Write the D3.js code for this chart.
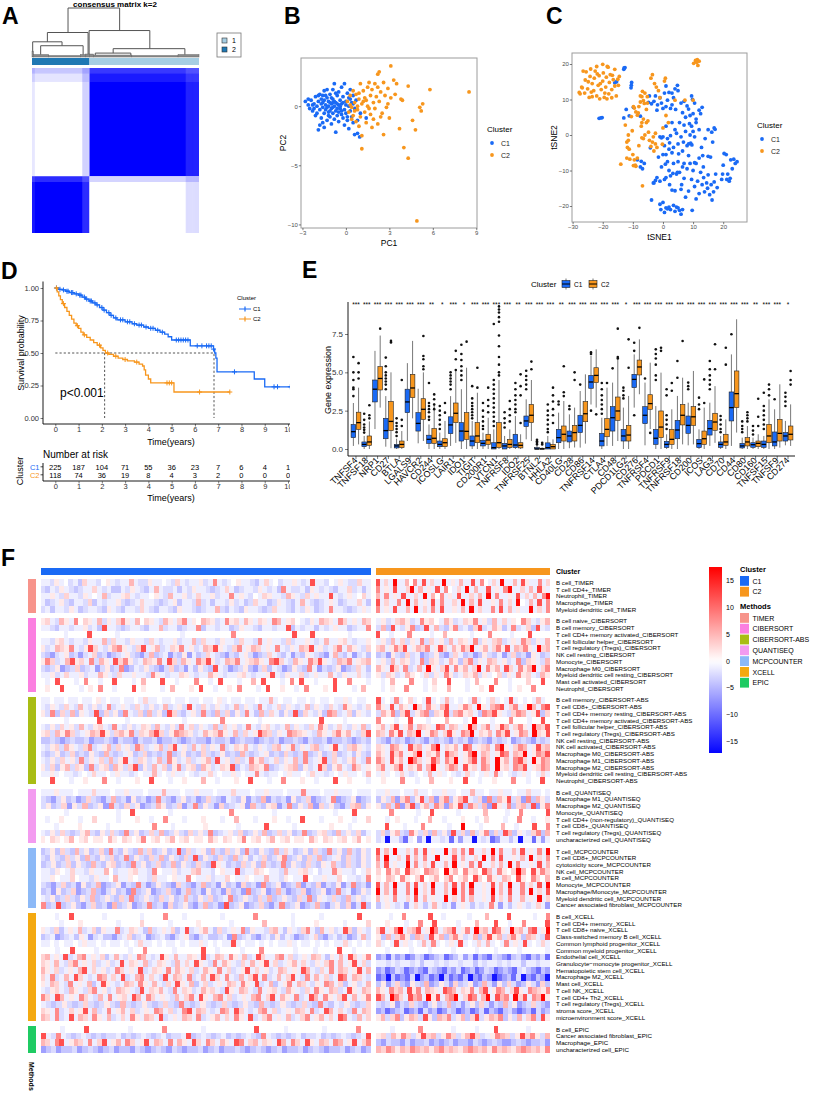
<!DOCTYPE html>
<html>
<head>
<meta charset="utf-8">
<script src="https://cdn.jsdelivr.net/npm/d3@7"></script>
<style>
  body { margin: 0; background: #fff; }
  svg { display: block; font-family: "Liberation Sans", Arial, sans-serif; }
</style>
</head>
<body>
<svg id="fig" width="816" height="1094"></svg>
<script>
// ---------- colours ----------
const colC1 = "#1a6af5";
const colC2 = "#f7961d";

// ---------- A: consensus matrix ----------
const consSizes = [225, 118];               // consensus cluster 1, 2
// dendrogram merges: [left x, right x, left child h, right child h, merge h] (x in sample index)
const dendroMerges = [
  [74, 180, 0.50, 0.54, 1.0],
  [31.6, 115.2, 0.31, 0.06, 0.50],
  [117.3, 242, 0.06, 0.17, 0.54],
  [1.4, 61.7, 0.12, 0.23, 0.31],
  [17.8, 105, 0.05, 0.05, 0.23],
  [166.7, 314, 0.08, 0.05, 0.17],
  [130, 203, 0.04, 0.04, 0.08]
];
const dendroLeaves = [[0, 3, 0.12], [3, 34, 0.05], [34, 100, 0.03], [100, 110, 0.05], [110, 118, 0.06],
  [118, 126, 0.06], [126, 205, 0.04], [205, 300, 0.03], [300, 343, 0.05]];
const consRowFringe = [[0, 12, 0.28], [12, 30, 0.13], [225, 236, 0.22]];
const consColFringe = [[0, 5, 0.12], [104, 118, 0.22], [316, 343, 0.17]];

// ---------- B: PCA ----------
const pcaC1 = [[-2.8,0.4],[-2.6,0.1],[-2.5,-0.2],[-2.4,0.5],[-2.3,-0.4],[-2.2,0.2],[-2.1,0.8],[-2.1,-0.8],[-2.0,0.0],[-1.9,-2.0],
  [-1.9,0.4],[-1.8,-0.3],[-1.8,1.0],[-1.7,-1.0],[-1.7,0.6],[-1.6,-0.1],[-1.6,0.3],[-1.5,-1.8],[-1.5,-0.6],[-1.5,1.3],
  [-1.4,0.1],[-1.4,-0.3],[-1.3,0.7],[-1.3,-1.2],[-1.3,1.4],[-1.2,0.0],[-1.2,-0.5],[-1.2,0.4],[-1.1,-0.9],[-1.1,1.0],
  [-1.0,0.2],[-1.0,-0.2],[-1.0,-1.5],[-0.9,0.6],[-0.9,-0.6],[-0.9,1.4],[-0.8,0.0],[-0.8,1.9],[-0.8,-1.1],[-0.7,-2.2],
  [-0.7,0.3],[-0.7,-0.4],[-0.6,0.9],[-0.6,-0.8],[-0.5,0.1],[-0.5,1.2],[-0.5,-1.3],[-0.4,-0.2],[-0.4,0.5],[-0.3,-0.7],
  [-0.3,1.6],[-0.3,0.2],[-0.2,-1.0],[-0.2,0.8],[-0.1,1.9],[-0.1,-0.3],[-0.1,-1.6],[0.0,0.4],[0.0,-0.6],[0.1,1.1],
  [0.1,-1.2],[0.2,0.0],[0.2,0.7],[0.2,-1.9],[0.3,-0.4],[0.3,1.4],[0.4,0.3],[0.4,-0.9],[0.5,-1.4],[0.5,0.9],
  [0.6,-0.2],[0.6,-2.4],[0.7,0.5],[0.8,-1.2],[0.8,-2.3],[0.95,-2.6],[1.0,-0.6],[1.4,-1.0],[-2.0,-0.6],[-1.9,0.9],
  [-1.6,-1.4],[-1.4,0.9],[-1.1,0.3],[-1.0,0.7],[-0.8,0.4],[-0.6,0.2],[-0.6,-0.2],[-0.4,0.0],[-1.3,-0.1],[-1.7,0.2],
  [-2.3,0.1],[-0.2,0.3],[0.0,0.1],[-1.5,0.5],[-0.9,-0.1],[-1.1,-0.4],[-0.5,-0.5],[-2.6,0.6],[-1.8,-1.6],[0.3,0.6],
  [-0.7,1.1],[0.1,-0.9],[-2.2,-0.2],[-1.2,-0.8],[-0.3,-0.4],[-1.6,0.9],[0.5,0.2],[-0.9,0.3]];
const pcaC2 = [[0.1,0.4],[0.2,-0.5],[0.3,0.9],[0.4,-0.1],[0.5,1.3],[0.5,-0.8],[0.6,0.3],[0.7,-1.3],[0.7,1.0],[0.8,-0.3],
  [0.9,0.6],[0.9,-1.7],[1.0,1.9],[1.0,-0.9],[1.1,0.2],[1.1,-2.5],[1.1,-3.6],[1.2,1.3],[1.3,-0.5],[1.3,0.7],
  [1.4,-1.4],[1.5,1.6],[1.5,0.0],[1.6,2.0],[1.7,-0.7],[1.7,0.9],[1.8,1.4],[1.9,-1.1],[1.9,0.3],[2.0,1.9],
  [2.0,-0.2],[2.1,0.8],[2.2,2.7],[2.2,-1.5],[2.3,2.9],[2.3,0.4],[2.4,1.2],[2.5,-0.6],[2.6,2.0],[2.6,-2.4],
  [2.7,0.9],[2.8,-0.1],[2.9,1.5],[3.0,-1.0],[3.1,3.4],[3.1,0.7],[3.3,2.2],[3.4,1.0],[3.5,1.9],[3.7,-1.9],
  [3.8,0.6],[3.9,0.5],[4.0,-3.5],[4.3,1.7],[4.3,-4.4],[4.6,-1.2],[4.8,-2.0],[4.9,-9.7],[5.1,-0.1],[5.2,-0.4],
  [5.3,0.2],[5.8,1.4],[8.5,1.2],[0.6,-0.4],[1.2,0.4],[0.9,1.1],[1.6,-0.2],[2.4,-0.9],[0.3,0.1],[1.4,0.5],
  [2.9,0.2],[0.8,0.0],[1.8,-1.8],[2.2,1.6],[0.4,-1.1]];

// ---------- C: tSNE ----------
const tsneC1 = [[-13,18.5],[-12.6,19],[-12.9,18.9],[-16,14.7],[-15.4,15],[-10.5,14],[-10.6,13.3],[-10.4,14.8],[-21.2,4.7],[-20.6,4.8],
  [-20.2,4.9],[-12.2,7.2],[-13,4.8],[-11.2,5.4],[-9.8,7.8],[-7.5,5.3],[-8.5,-7],[-7.2,-7.4],[-6.2,-8],[-6.8,-9.5],
  [-7.5,-9],[-3.2,-13.5],[-4.2,-3.6],
  [-3,9.5],[-2.5,11],[-1.8,8.5],[-1,10.5],[-0.5,9],[0,7.5],[0.5,11.8],[1,13.8],[1.5,9.8],[2,12],
  [2.5,7.5],[3,11.8],[3.5,10.5],[4,13],[4.2,7.2],[4.8,14],[5,12.5],[6,9],[6.5,6.3],[7,9.5],
  [7.5,5],[8,8.2],[8.5,7.3],[9,5.5],[9.5,11],[9.8,10],[10,6],[10.5,9],[11,4.5],[12,7],
  [12.5,6],[13,7.8],[-2,7],[1,8],[3,8.5],[-4.5,11],[-3.8,8.8],[-4.8,9.2],
  [-1,-0.5],[0,-0.5],[0.5,-3],[1,-5.5],[1.5,-1],[2,-4],[2.5,-0.2],[3,-5],[3.5,-3.5],[4,1.5],
  [4.5,0.5],[5,-2.5],[5.5,3.5],[6,-0.5],[6.5,-4.5],[7,2.8],[7.5,1],[8,-3],[8.5,-2.5],[9,0],
  [9.2,-2.3],[9.5,2.5],[10,1],[10.5,-0.5],[11,3.5],[12,1.5],[12.8,-3.5],[13.2,-5.8],[14,-1],[15,-6],
  [15,1.5],[15.8,-6.2],[16.5,-2],[16.2,0.8],[17,2],[17.3,1.6],[3,3.5],[1,2.5],[-0.5,-0.8],[2.2,-2.2],[6.8,-2],
  [-3,-13.5],[-2.5,-12.8],[-2,-12],[-1,-13],[-0.5,-9],[0,-5.5],[0.5,-12.5],[1,-12],[1.5,-7.5],[2,-10],
  [2.5,-11.5],[3,-15.5],[3.5,-8],[4,-15.7],[4.5,-11],[5,-7.5],[5.5,-10.5],[6,-15.3],[6.5,-9],[7,-8],
  [7.5,-17.5],[8,-9.5],[8.5,-15.8],[9,-8],[9.5,-12.5],[10,-10],[10.5,-14.5],[11,-8],[11.5,-13],[12,-16.5],
  [12.5,-10.5],[13,-14],[13.5,-12],[13.8,-16],[14.5,-13.5],[15,-11.2],[15.5,-16.8],[16,-14],[16.3,-18.3],[17,-13.2],
  [17.5,-11],[18,-14.8],[19.5,-12.5],[20,-8.5],[20.3,-5.2],[21,-5.5],[21.5,-11],[22,-13],[22.3,-12.2],[22.5,-7],
  [23,-9.5],[23.5,-6.8],[24,-8],[24.6,-7.5],[19.8,-11],[21.2,-12.5],[-3.8,-18.3],[-1,-19.5],[0,-19],[0.5,-21.8],
  [1,-20.5],[1.5,-20.8],[2.5,-21],[3.5,-19.8],[4,-21.5],[4.5,-20.3],[5,-20.5],[5.5,-21.2],[6,-22.3],[6.5,-21],
  [9.7,-21.2],[-0.7,-21],[2,-20.3],[4.8,-10.5],[3.3,-10.8],[8.5,-5.8],[12,-6.5],[6.2,-14],[11,-18],[14.8,-15],
  [16.8,-16],[10.5,-7.8],[7,-12.2],[2.2,-14],[9.6,-2.8],[8.8,3.2],[5.2,-5.3],[0.8,-8.2],[-1.5,-6.2],[13.4,-9]];
const tsneC2 = [[-27.8,12],[-27.5,11.6],[-27,13.5],[-26.5,18],[-26,11.8],[-25.8,15.5],[-25.5,17.8],[-25,13],[-24.5,10.6],[-24.2,16.5],
  [-24,18.6],[-23.5,14.5],[-23.5,10.8],[-23,12.5],[-22.8,16],[-22.5,18],[-22,19.3],[-22,11],[-21.5,14],[-21.2,16.7],
  [-21,10.2],[-20.5,12.8],[-20,19.9],[-20,15.2],[-19.8,17.5],[-19.5,10.6],[-19,13.5],[-18.8,16.3],[-18.5,19.3],[-18,11.6],
  [-17.8,14.8],[-17.5,17],[-17,10.5],[-17,12.8],[-16.5,15.6],[-16,18.5],[-16,13.8],[-15.5,11],[-15,15.7],[-14.8,14],
  [-14.5,16.5],[-18.2,19.1],[-26.8,13.3],[-21.8,17.2],[-23.8,12.1],[-19.3,11.8],[-16.8,16.8],[-20.8,14.5],[-24.8,15],[-18.6,10.2],
  [-12.5,2.8],[-11.5,-1.5],[-11.8,-3.5],[-11.2,-4],[-12,-6.5],[-11,-6.8],[-10,-5.5],[-9.5,-7],[-9.2,-8.5],[-9,-8.8],
  [-8.5,-6.5],[-14,-8.2],[-6.8,-14.3],[-10.5,5.2],[-9.8,8],[-9.5,7.6],[-9,6.5],[-8.5,5.6],[-8,8],[-7.5,9.3],
  [-7,10.8],[-6.8,12.3],[-6.5,9.7],[-6.2,8.9],[-6,11.8],[-5.5,7.2],[-5.2,9],[-5.2,10.8],[-5,4],[-4.8,0.8],
  [-5.5,3.5],[-6.5,4.5],[-7,3.5],[-7.2,2.5],[-6,0],[-6.5,-1],[-7,-0.8],[-4.5,-1.5],[-4,-3.2],[-3.5,-2],
  [-3.2,-0.5],[-3,-4.5],[-2.5,0.5],[-2.5,-2.5],[-4,16],[-3.5,17],[-2.8,14.5],[-2.2,13.5],[-1.5,12.5],[0.5,15.2],
  [0.8,16],[-1,10.5],[-7.5,11],[-8.2,6.2],[-10.2,1.2],[-11.5,0],[-12,-2],[-8,-3],[-2,-3.5],[0,2],
  [1.8,3.5],[1,5.5],[4,9.8],[7.3,9.8],[10,9.8],[-0.2,-2.6],[-9.8,-8.6],
  [10.2,20.2],[10.8,21],[11.2,20.5],[11.6,19.6],[12,20.8],[11.4,21.2]];

// ---------- D: Kaplan-Meier ----------
const kmC1 = [[0,1],[0.15,0.99],[0.3,0.985],[0.45,0.975],[0.6,0.965],[0.8,0.955],[1.0,0.945],[1.15,0.93],[1.3,0.915],
  [1.45,0.9],[1.6,0.885],[1.75,0.87],[1.9,0.85],[2.05,0.83],[2.2,0.81],[2.35,0.79],[2.5,0.77],[2.65,0.755],[3.0,0.74],
  [3.3,0.725],[3.5,0.715],[3.8,0.70],[4.0,0.69],[4.3,0.675],[4.5,0.66],[4.7,0.645],[4.85,0.625],[5.0,0.60],[5.8,0.555],
  [6.8,0.53],[6.85,0.50],[6.9,0.46],[6.95,0.355],[8.55,0.30],[9.0,0.24],[10.2,0.24]];
const kmC2 = [[0,1],[0.08,0.97],[0.15,0.94],[0.22,0.91],[0.3,0.88],[0.4,0.85],[0.5,0.82],[0.6,0.79],[0.7,0.76],[0.8,0.73],
  [0.9,0.71],[1.0,0.69],[1.1,0.66],[1.2,0.64],[1.35,0.62],[1.5,0.60],[1.65,0.58],[1.8,0.56],[1.95,0.54],[2.05,0.52],
  [2.15,0.50],[2.3,0.49],[2.5,0.475],[2.7,0.46],[2.9,0.45],[3.1,0.44],[3.4,0.43],[3.6,0.415],[3.75,0.40],[3.82,0.37],
  [3.88,0.33],[4.0,0.30],[4.1,0.27],[5.1,0.20],[7.5,0.20]];
const censC1 = [0.05,0.2,0.35,0.5,0.55,0.7,0.75,0.9,1.05,1.1,1.25,1.35,1.5,1.55,1.7,1.8,2.0,2.1,2.3,2.4,2.6,2.8,2.9,3.1,
  3.2,3.4,3.6,3.7,3.9,4.1,4.2,4.4,4.6,5.2,5.3,5.4,5.5,5.6,5.7,6.1,6.3,6.5,6.6,6.7,6.8,7.7,9.4,9.55,10.1];
const censC2 = [0.05,0.35,0.95,1.25,1.9,2.25,2.6,3.0,3.5,4.8,4.9,5.0,6.2,7.5];
const kmMedian = [6.82, 2.12];
const riskTimes = [0, 1, 2, 3, 4, 5, 6, 7, 8, 9, 10];
const riskC1 = [225, 187, 104, 71, 55, 36, 23, 7, 6, 4, 1];
const riskC2 = [118, 74, 36, 19, 8, 4, 3, 2, 0, 0, 0];

// ---------- E: immune checkpoint boxplots ----------
const eGenes = ["TNFSF4","TNFSF18","NRP1","CD27","BTLA","LGALS9","HAVCR2","CD244","ICOSLG","LAIR1","IDO1","TIGIT",
  "CD200R1","VTCN1","TNFRSF8","IDO2","TNFRSF25","BTNL2","HHLA2","CD40LG","CD28","CD86","TNFRSF14","CTLA4","CD48",
  "PDCD1LG2","CD276","TNFRSF4","PDCD1","TNFRSF9","TNFRSF18","CD200","ICOS","LAG3","CD70","CD44","CD80","CD160",
  "TNFSF15","TNFSF9","CD274"];
const eStars = ["***","***","***","***","***","***","***","**","*","***","*","***","***","***","***","**","***","***",
  "***","**","***","***","***","***","***","*","***","***","***","***","***","***","***","***","***","***","***","**",
  "***","***","*"];
// [lower whisker, q1, median, q3, upper whisker]
const eBoxC1 = [[0.2,0.74,1.13,1.6,3.0],[0,0.15,0.3,0.46,0.85],[1.3,3.07,3.9,4.5,6.4],[0.15,0.67,1.2,2.0,3.45],
  [0,0.07,0.2,0.3,0.67],[0.52,2.37,3.07,3.9,5.6],[0.37,1.17,1.67,2.37,3.93],[0,0.37,0.63,0.9,1.6],[0,0.15,0.3,0.52,1.07],
  [0.2,1.0,1.57,2.1,3.45],[0,0.52,1.17,1.72,3.9],[0,0.2,0.52,0.85,1.83],[0,0.2,0.37,0.57,1.07],[0,0,0.09,0.41,1.28],
  [0,0,0.2,0.37,0.85],[0,0.09,0.26,0.96,2.15],[0.63,1.46,1.83,2.15,3.24],[0,0,0,0.09,0.2],[0,0,0.09,0.4,0.85],
  [0,0.41,0.74,1.28,2.37],[0.05,0.46,0.85,1.17,2.26],[0.09,1.07,1.54,2.2,3.78],[2.9,3.96,4.37,4.8,6.07],
  [0,0.2,0.52,1.02,2.04],[0.2,1.17,2.04,2.76,4.33],[0,0.52,0.85,1.28,2.7],[2.7,4.0,4.54,4.87,6.17],
  [0.24,1.65,2.2,2.76,4.33],[0,0.3,0.7,1.28,2.8],[0,0.09,0.3,0.5,0.96],[0,0.67,1.24,1.87,3.46],[0.24,1.02,1.54,2.15,3.02],
  [0,0.09,0.35,0.63,1.28],[0.2,0.91,1.33,1.87,3.02],[0,0.11,0.3,0.46,0.85],[0.2,1.83,2.7,3.72,6.17],[0,0.07,0.2,0.37,0.74],
  [0,0.11,0.28,0.41,0.74],[0,0.11,0.3,0.52,0.85],[0,0.2,0.46,1.11,2.59],[0.24,0.52,0.85,1.07,1.83]];
const eBoxC2 = [[0.3,1.28,1.72,2.4,4.0],[0,0.24,0.46,0.85,1.8],[2.7,3.85,4.6,5.37,7.4],[0.05,1.2,1.8,3.1,5.0],
  [0,0.09,0.3,0.52,1.17],[2.0,3.35,3.98,4.87,7.05],[0.52,1.93,2.59,3.28,5.0],[0,0.37,0.7,1.33,3.0],[0,0.15,0.41,0.67,1.83],
  [0.4,1.72,2.33,3.0,5.1],[0,0.63,1.15,2.37,5.3],[0,0.41,0.85,1.72,3.67],[0,0.3,0.59,0.96,2.04],[0,0.09,0.41,1.72,4.5],
  [0,0.09,0.3,0.63,1.28],[0,0.07,0.24,0.41,0.96],[0.52,1.72,2.2,2.9,4.5],[0,0,0,0.05,0.1],[0,0,0.15,0.3,0.63],
  [0,0.52,0.96,1.5,3.13],[0.1,0.52,1.07,1.54,2.7],[0.35,1.78,2.3,3.09,4.87],[2.7,4.33,4.8,5.3,6.5],
  [0.2,0.8,1.28,1.98,4.0],[0.52,1.87,2.48,3.39,5.85],[0,0.52,0.91,1.54,3.46],[3.57,4.83,5.35,5.8,7.15],
  [1.3,2.59,2.96,3.54,5.63],[0,0.74,1.43,2.48,4.98],[0,0.3,0.63,1.28,2.59],[0.3,1.57,2.2,2.9,4.65],[0.3,1.54,2.1,2.76,5.09],
  [0,0.3,0.67,1.17,2.7],[0.4,1.22,1.76,2.33,4.1],[0,0.24,0.46,0.96,1.93],[1.07,2.7,3.61,5.09,8.46],[0,0.2,0.46,0.74,1.5],
  [0,0.15,0.37,0.52,0.96],[0,0.41,0.85,1.61,3.24],[0.09,0.52,1.02,1.93,4.22],[0.2,0.59,0.96,1.5,2.91]];
const eOutC1 = [[6.0,5.0,4.5,4.0,3.9,3.45],[2.3,1.9,1.6,1.4,1.25,1.07],[],[5.96,5.4,5.0,4.8,4.6,4.4,4.2,3.9],
  [2.0,1.7,1.5,1.3,1.1,0.85],[],[],[4.3,3.0,2.8,2.6,2.4,2.1,1.9],[2.8,2.5,2.2,1.9,1.6,1.3],[5.0,4.8,4.6,4.4,4.2,3.9],
  [6.8,6.2,5.8,5.4,5.1,4.8,4.5],[4.1,3.3,3.0,2.8,2.6,2.4,2.2,2.0],[3.0,2.5,2.1,1.8,1.5,1.3],
  [8.15,4.5,4.2,3.9,3.6,3.3,3.0,2.7,2.4,2.1,1.8,1.5],[2.4,2.0,1.7,1.4],[4.3,3.9,3.5,3.2,2.9,2.6,2.4],
  [5.1,4.76,4.5,4.2,3.9],[0.6,0.5,0.4,0.3],[2.9,2.5,2.2,1.9,1.6,1.3,1.1],[3.1,2.9],[2.8,2.6],[4.2],[6.3,6.2,2.5],
  [4.3,3.9,3.5,3.2,2.9,2.6,2.3],[5.26],[4.0,3.8,3.5,3.3],[6.93,6.4,2.2],[4.6],[6.5,6.2,5.9,5.5,4.8,4.5],
  [3.9,3.5,2.2,1.9,1.6,1.3],[5.74,4.65],[4.33,4.1,3.9],[3.35,2.9,2.6],[5.74,5.2,4.8,4.5,4.2,3.9],[2.15,1.9,1.6,1.3,1.1],
  [7.48],[1.8,1.5,1.3,1.1],[1.5,1.2,0.95],[3.67,2.8,2.5,2.2,1.9,1.6,1.3],[3.24],[3.67,3.4,3.1,2.8]];
const eOutC2 = [[5.6,5.0,4.6],[2.85,2.2,2.0],[7.85],[7.05,6.95],[4.5,1.9,1.5],[],[7.37,6.07,5.85,5.4,5.2],
  [3.56,3.24,2.9,2.6],[3.0,2.37],[6.4,5.85,5.15],[7.0],[5.3,4.0],[4.0,3.2,2.8,2.4],
  [9.3,9.1,8.9,8.6,8.3,7.4,6.7,6.0,5.5,5.0,4.8],[3.13,2.6,2.2,1.8],[4.87,4.1,3.5,1.7],[5.7,5.2],[0.4,0.3],
  [4.0,3.5,3.1,2.6,2.2,1.7],[5.4,3.7,3.45],[5.0,4.5],[],[2.26],[4.3],[7.85,6.0,5.9],[7.15,5.3],[7.9],[1.05],
  [6.6,6.4],[4.3,3.8],[7.04],[],[4.54,3.0],[6.83,5.2],[6.6,5.5],[],[2.4,2.2,2.0,1.8],[3.28,2.1,1.5],[4.2,3.9,3.5],[],
  [5.09,4.5,4.2]];

// ---------- F: immune infiltration heatmap ----------
// each row: [label, C1 cells, C2 cells]; one character per block of samples
const heatCode = { ".": -1.2, "-": 0, "u": -2.5, "v": -4, "w": -6.5, "x": -10, "y": -16,
  "a": 1.5, "b": 3, "c": 5, "d": 8, "e": 12, "f": 17 };
const heatMethods = ["TIMER", "CIBERSORT", "CIBERSORT-ABS", "QUANTISEQ", "MCPCOUNTER", "XCELL", "EPIC"];
const methodColors = ["#f7948b", "#fb7fe0", "#a9bd14", "#f39bf0", "#8cb9f7", "#f4a910", "#1fcb63"];
const heatTIMER = [
  ["B cell_TIMER", "..ua.-u.vb..u-a.u..c.uua..-.ub.u..au.d.u.-a..uv.b.-u..a.u.e..u-.a.uub..", "e.b.f..c-d.e.b..f.a.c..e.d-.b.f..c.ea..d.b"],
  ["T cell CD4+_TIMER", "uv.ua.uvu..b.u.vv.ua.uv.c.uu.v.ua..uvu.b.vu..ua.u.vd.uu.va.u.uv..bu.v.", "d.a.e..bf.c.a.e.d-.b.f.c..e.a.df..b.c.ea."],
  ["Neutrophil_TIMER", "..a.ub..ua.-.cu..ab.u..-a.uc..au.b..au..d.a.u-.ba..uca.ub.a..e.u.a.-b.", "c.d.a.e..b.f.c-d.a.e..b.c.f.d..a.e.b.c.df"],
  ["Macrophage_TIMER", ".vu.auv..ubv.u..auvu.b..uvu.av..ucu.v..uau.vub..vua.uv.c.uvu.a.vu..b.v", "e.b..d.f.c.a.e.d..b.f.c.e..a.d.b.f-.c.e.d"],
  ["Myeloid dendritic cell_TIMER", "u.v..ua.vu..uva.uv..ub.uv..uva..uvu..cuv.uva..uvub..uv.ua.vu.d..uvu.a.", "d.a.e..c.f.b.d.e..a.c.f.b..d.e.c.a..f.b.d"]
];
const heatCIBERSORT = [
  ["B cell naive_CIBERSORT", "ab.uca.d-ba.cua.bda.c-ba.uca.bd.a-cbau.dab.ca.ba.dc.ab-.ua.cba.db.a.cb", ".au.bcau.dab-.cau.bad.auc.b.a-db.uac"],
  ["B cell memory_CIBERSORT", "..uv..u..au.ve..uvu..uv..cu..vu..dv..u..vua..uv..u..ev.u..v.u.a..vu..d", "ucve.uadvue.cuvadu.vbeu.cav.du.bve.u"],
  ["T cell CD4+ memory activated_CIBERSORT", "-----.----e-----.-------------.----------d------------e---e-------.----", "e--.---d----.--c-----.---d----.---e----"],
  ["T cell follicular helper_CIBERSORT", "..uab.u..ua..cub..ua..ub.u..au..cub..ua..ub..ud.a..ubu..a.u.c..ab.u..a", ".auc.bua.dub.auc.ba.dua.bcu.a.dbua.c"],
  ["T cell regulatory (Tregs)_CIBERSORT", "au.cbad.uaeb.uacda.ube.acu.bad.au.cbea.ubd.acb.a.d.ua.cbe.au.bd.ca.ub", "bc.adbe.acbd.aeb.cadbf.ac.bdae.cbda.fbc"],
  ["NK cell resting_CIBERSORT", "uvwu.avuwu.bvuwvu.auvwucvu.wuvaw.vub.uvwuv.auwvub.uv.wuva.uvw.cuv.wu.v", "vuwauvbu.wvuavwub.vuwvauv.wubvuwa.vu"],
  ["Monocyte_CIBERSORT", "adbu.ceab.duca.ebdau.cbad.ebuca.dbeau.cbd.abca.deb.uca.dbea.ucbd.abc", ".auc.bau.dvbau.cavbdua.cb.au.dvba.uc"],
  ["Macrophage M0_CIBERSORT", "uvuawvubvu.wuavudwv.uauvwubvuw.vauve.uwvuavwubv.uwvauvd.wuvuawvub.v", "ca.eb.du.c.fa.be.dac.bf.dac.eb.dacf.bd"],
  ["Myeloid dendritic cell resting_CIBERSORT", "..au.b..au..ca.ub..a..uda.u..ba.u..ca.u..ab.u..ae.ua..bu.a..c.ua..b.u", "aubau.ca-.bua.dau.bacua.-bua.dab.uca"],
  ["Mast cell activated_CIBERSORT", "-.-e---.-d--.--e---.-c---e--.---d--.-e---.--c-e---.-d-e--.---e--d---.", "-.-c---d--.-b--e---.-c---d--.---b--e-"],
  ["Neutrophil_CIBERSORT", "-a--e---.-a-d--.---e-a---.-c---a-e--.--a-d---.-e--a--.-d---a-e---.-c-", "-.-a--d---.-a--c---.--a-e---.-a--d---"]
];
const heatCIBERSORTABS = [
  ["B cell memory_CIBERSORT-ABS", "..-..-..-..-a.-..-..-.b..-..-..-..-..-a.-..-..-..c.-..-..-.-..-..a.-..-", "e.-.d.-b.-.e.-.c.-.-.d.-.b.-.e.-.-.c.-"],
  ["T cell CD8+_CIBERSORT-ABS", ".ua.ub.uc.uau.du.a.ub.uau.cu.aue.ub.ua.u.cua.ud.u.bua.u.cua.ub.uda.u.b", "da.e.ca.fb.da.ce..adb.fa.cde.bd.afc.de"],
  ["T cell CD4+ memory resting_CIBERSORT-ABS", "audvbucva.uevbuavd.ubvcuavebuv.auduvcubvaud.vcub.vauevb.uavdcu.bva.u", "ucadvbeuacdvbaeucdab.vdcea.ubdc.aevb"],
  ["T cell CD4+ memory activated_CIBERSORT-ABS", "-----.------e-----.-----------.-------d-------.------------e----.-----", "d---.--e---.---c---.-f---.---d---.--e-"],
  ["T cell follicular helper_CIBERSORT-ABS", ".uaub.auc.uab.ud.uau.bauc.uaud.bua.ucub.au.d.uab.u.cua.ub.dau.b.ua.cu", "ac.be.ad.cba.ed.cb.afc.bd.aec.bda.fcbe"],
  ["T cell regulatory (Tregs)_CIBERSORT-ABS", "abucadbu.acbeaubcadubacebuadcbau.cabda.cub.aecbua.dcba.uca.bdac.ube", "cb.dae.cbf.adc.bea.dcf.bac.dbe.adc.fbae"],
  ["NK cell resting_CIBERSORT-ABS", "vvuvwvuvvuwvvuvwuvvwuvvuwvvuvwvuvvwuvvuwvuvvwvuvuwvvuvwuvvuwvvuvwvuv", "uvwuvuwvuvwuvuvwuvuwvuvwuvu.wvuvwuvu"],
  ["NK cell activated_CIBERSORT-ABS", ".uabuca.ubdu.acub.audbu.acube.auc.bua.du.bac.ua.ubc.adua.bcu.ae.ubca.u", "ba.dca.ebc.adf.bac.ed.abc.dfa.bdc.aebc"],
  ["Macrophage M0_CIBERSORT-ABS", "uvuavubvuvauvcuvu.avubvuvudvuavuvbuvuavuvcuvu.avuvbuvudvuavubvu.vauv", "ca.ebd.acf.bad.ecb.adf.cb.aed.cbf.adce"],
  ["Macrophage M1_CIBERSORT-ABS", ".uaub.audua.bucuae.ubau.cudau.bu.acue.aubu.dacu.bua.cudu.aeub.uac.ud", "db.eac.fdb.aec.dbf.ace.db.fac.deb.fadc"],
  ["Macrophage M2_CIBERSORT-ABS", "aubvacubavduabvcaubevauc.bvaduabvcau.baev.ucbadvu.abcvau.ebvac.udb.a", "bd.ace.bad.cfa.bdc.eab.dc.fab.dce.abdc"],
  ["Myeloid dendritic cell resting_CIBERSORT-ABS", "..a.-..u.-.b..-.a..u.-..c.-.a..-.u..b.-..a.-..d.u..-.a..-.b..u.-.a..-.c", ".a.-.b.u.-.c.a.-.u.b.-.a.d.-.u.a.-.b."],
  ["Neutrophil_CIBERSORT-ABS", "--e---.--a---d--.---a--e---.--a---c--.---a--e---.--d---a--.---e--a---.", "-a---d--.--c---a--e--.--a---d--.--e-"]
];
const heatQUANTISEQ = [
  ["B cell_QUANTISEQ", "...a...-...b...-..a...-...c...-..a...-...b...-..a...-...d...-..a...-...", "..a..-..b..-..a..-..c..-..a..-..b..-."],
  ["Macrophage M1_QUANTISEQ", "uvwuavuwvbuvwucvuwavuwvduvwuavuwvbuvw.uvawuvcwuvuwavubwvu.dwvuawvu", "vaucwbdvaeucwbdvace.ubwdvcaeubwdvcau"],
  ["Macrophage M2_QUANTISEQ", "uavubwaucvuawduvbuawvucavubwudvauwbvu.awcuvabwudvaucwbuavwubcva", "avcudwbevacudbwcaevdbucwea.dvbcuewad"],
  ["Monocyte_QUANTISEQ", "-----.----------.--e-------.------------d--------.------------.---e---", "---d-----.--e-----.-----c----.--d-----e"],
  ["T cell CD4+ (non-regulatory)_QUANTISEQ", "-.--a---.--b----.---a--.--d---.---a---.--c---.---a--.--e---.---a--.--b", "--.-a---.--c--.---a--.-b---.--d--.--a"],
  ["T cell CD8+_QUANTISEQ", "---.----a-----.---------d---.------a------.-----e-----.-------a---.----", "--e---.---d-----.--f---.----c--.---e--d"],
  ["T cell regulatory (Tregs)_QUANTISEQ", ".uaubuvuacuvaubuvduavubucvuauvbuaudvu.aubvuaucvubuavudvuabuvcuaubv.", "ubvacuvdaubvcuaveubvcuadvbuecva.ubdvc"],
  ["uncharacterized cell_QUANTISEQ", "a-ba-ac-ab-aa-ca-ba-ad-ab-ac-ab-aa-ca-ba-ad-ab-ac-ab-aa-ca-ba-ab-ac-a", "u.y..vx.-w.y..u.x.w..y.u.xw..v.y..x.w."]
];
const heatMCPCOUNTER = [
  ["T cell_MCPCOUNTER", "vuavbuvcuavubvduvauvcubvuavuevbu.avcuvbuavduvauvcub.vuavbuvduavcuvau", "e.c.f..b.d.e.a..f.c.d.e..b.f.d..c.e.a.d.f"],
  ["T cell CD8+_MCPCOUNTER", "uvauvbuavcuvaubvudvauvbucvauvbuevauvbuvcuav.ubvuadvuavbucvu.avbuvau", "d.f..b.e.c.d..f.a.e.c..b.f.d.e..a.c.f.b.d"],
  ["cytotoxicity score_MCPCOUNTER", "vuavubvauvcuvabvuvduavubvucvauvbuvea.vuvbuavcuvudvauvbuva.cuvbuvau", "c.e.a..f.d.b.e..c.f.a.d.e..b.c.f.d..a.e.c"],
  ["NK cell_MCPCOUNTER", "..ua-.b..ua..c-u..ab..ud-..au..bc..u-a..eu..ba-..uc..ab.-u..da..u-.b", "b-dac-eba-dcb-fac-dab-ec.da-bfc-eadb"],
  ["B cell_MCPCOUNTER", "..a-..b-..ua..-c..a-..ub..-a..d-..au..b-..a-..c..ua-..e-..a..b-..u.d", "a-cb-da-be-ac-bd-ac-eb-da.cb-ea-db-c"],
  ["Monocyte_MCPCOUNTER", "uvwubvuwavucwvuawuvduwvauvwbuvwucvuwavuwbvuwdvuawvucwuvbwuvawudvuw", "e.c.f..d.e.b.f..c.e.d.f..a.e.c.f..d.b.e.f"],
  ["Macrophage/Monocyte_MCPCOUNTER", "vuwavubwvucvwuavuwdvuawvubvwucvuwavuwbvuwdvuawvcuwvubwvuawvdu.wvau", "f.c.e..d.f.b.e..c.f.d.e..a.f.c.e..d.f.b.e"],
  ["Myeloid dendritic cell_MCPCOUNTER", ".uavubuvaucvuauvbudvuauvbuavucuvaubvu.dvuauvbucvuauvbudva.ubuvcuau.", "c.a.d..b.e.c.a..f.b.d.c..a.e.b.d..c.a.f.b"],
  ["Cancer associated fibroblast_MCPCOUNTER", "dvuevuavwubvuwcvuawvudvuwbvuavwucvuwevuawvubvwudvuawvucvwuavbwuev", "v.a.u.w.b.v.c.u.w.a.v.u.d.w.v.a.u.b.w"]
];
const heatXCELL = [
  ["B cell_XCELL", "---.--e------.-------.----d---.-------.------d-------.-----.-------e--", "---.--d-----e--.-----.---c----e-----.--d"],
  ["T cell CD4+ memory_XCELL", "----.---a-------.----b-----.-----a------.------c-----.----a-----.----b", "--a---.--d--e----.---c---e--.--d----e"],
  ["T cell CD8+ naive_XCELL", "a.ubv.a.cu.bva..du.ba.vcu.a.bv.eu.ac.vbu.a.dva..ubc.va.ubd.vc.au.ebva.u", "be.adf.bce.afd.bce.ad.fbc.eda.fbc.de.af"],
  ["Class-switched memory B cell_XCELL", "vu.wvu.va.wu.vvwu.bvu.wvu.vwu.avwu.vvu.wdvu.vwu.vav.uwvu.bvwu.vuwv.cu", "avcubdavcbueacvbdau.cvbeacubdavcb.ue"],
  ["Common lymphoid progenitor_XCELL", "..-.-..-.a..-.-..-.-.b..-.-..-.-..a.-.-..e.-..-.-.-..a.-..-.-.-..b.-.-.", "b.-.e.a.-.c.d.-.a.e.-.b.c.-.d.a.e.-.b."],
  ["Common myeloid progenitor_XCELL", "---.--e----.------.--d-----.-----e--.----.---d------.---.----e--.---", "--.----.---.----.----.---.----.-----."],
  ["Endothelial cell_XCELL", "bc.a.eu.cd.a.bv.c.ua.dc.u.ea.c..ba.eu.cb.da.cu.eb..cd.bu.a.cb.va.c.eb.ad", "wvxuwvxwuvxwvuxwv.wuxvwxuvwxvuwxvwux"],
  ["Granulocyte\u2212monocyte progenitor_XCELL", "ba.c.ubd.a.bu.au.e.ba.cu.ba.uc.b.ea.ud.ca.ub.c.ae.bu.ac.b.ua.bd.c.ae.bu", "..u.u..u.v..u.u..u..v.u..u.u..v..u.."],
  ["Hematopoietic stem cell_XCELL", "ca.bu.a.ce.b.au.db.a.eu.ba.d.ca.bu.ca.d.bu.ae.b.au.cb.a.ec.ub.d.cb.ae.c", "wvxwuvxwvwxuvwxvwuxwvxwuvxwvwxu.vwxvw"],
  ["Macrophage M2_XCELL", "b.du.c.eb.u.dc.b.eu.cd.b.ue.cb.du.c.eb.d.uc.be.du.c.be.ud.c.bu.ed.cb.u", "xwyvxwxuywvxwyvxwxvywxvwyxwvxuywxvwy"],
  ["Mast cell_XCELL", "a.cb.ud.a.cv.ea.u.cb.da.c.ub.ea.cv.bu.a.cb.da.eu.cv.ad.cb.ua.dc.bv.au.c", "vawubvwauvcwvauwbvuawvcuwavbuwvauwbv"],
  ["T cell NK_XCELL", ".uab.uca.ubd.au.cba.ue.bac.ud.bau.cab.uea.cb.ud.ab.uca.ub.da.cbu.ea.cb", "ca.dbc.ead.cba.edc.bad.ce.adc.bea.dcbad"],
  ["T cell CD4+ Th2_XCELL", "db.ec.a.db.uc.d.ab.ec.db.a.uc.bd.ea.cd.bu.a.cd.be.ca.du.ec.da.be.c.ad", "ec.fdb.ecd.fae.cdf.bed.cf.ecd.fbe.dcfa"],
  ["T cell regulatory (Tregs)_XCELL", ".uvuauvubuvuauvcuvuauvubuvduvuauvubuvuauvcuvuauvubuvduv.uauvub", "uvuawuvbuvwuavucvuwuavbuwuvcuawvubuvw"],
  ["stroma score_XCELL", "ba.du.b.ae.cu.d.ac.bu.a.dc.bu.de.cb.u.dc.eb.u.cd.bu.a.cb.du.ec.b.ud.cb", "wvxwvuxwvxuwvxwuvxwvxwuxvwxvuwxwvxuwv"],
  ["microenvironment score_XCELL", "cb.du.e.cb.da.cu.b.da.cb.eu.a.cb.du.ac.b.da.eu.bd.a.cu.bd.ac.b.ed.uc.b", "acubdvacbueavcbduacvbeuacbdvauc.bduea"]
];
const heatEPIC = [
  ["B cell_EPIC", "----.----e--------.------d-------.----------e-----.-------.------d--", "---.-----d------.----.---e------.----"],
  ["Cancer associated fibroblast_EPIC", "e.ud.uvu.uvuvuu.vuvu.uvu.vuu.evu.uvu.vuvu.uvd.uvuvu.vuu.vuvu.uvu.e", "abucadbuaebcuadbuacebu.adcbuaebdauc"],
  ["Macrophage_EPIC", "cb.de.acb.d.be.ac.db.ae.cb.d.ca.eb.db.ca.ed.bc.ba.ec.db.ea.cb.dc.ae.bd", "vwuvvwuwvvuwvwvuwvvwuvwvuvwwvuvwvvuw"],
  ["uncharacterized cell_EPIC", "wvuwvvuwvuvwvuwvvwuvwvuvwuvwvvuwvuwvvuvwvuvwvuwvvuwvuvwvvuwvuwv", "cbdcacbdcbcacdbcbacdcbcadbcbacdcbcad"]
];
const heatBlocks = [heatTIMER, heatCIBERSORT, heatCIBERSORTABS, heatQUANTISEQ, heatMCPCOUNTER, heatXCELL, heatEPIC];
const heatTicks = [15, 10, 5, 0, -5, -10, -15];

// =====================================================================
const svg = d3.select("#fig");
svg.append("rect").attr("width", 816).attr("height", 1094).attr("fill", "#fff");

function label(g, x, y, s, size, opt = {}) {
  return g.append("text")
    .attr("x", x).attr("y", y)
    .attr("font-size", size)
    .attr("font-weight", opt.weight || null)
    .attr("text-anchor", opt.anchor || "start")
    .attr("fill", opt.fill || "#000")
    .text(s);
}
function styleAxis(g, size, color) {
  g.select(".domain").remove();
  g.selectAll(".tick line").attr("stroke", "#444").attr("stroke-width", 0.7);
  g.selectAll(".tick text").attr("font-size", size).attr("fill", color).attr("font-family", null);
}

// panel letters
[["A", 2, 24], ["B", 284, 24], ["C", 546, 24], ["D", 1, 279], ["E", 302, 278], ["F", 1, 566]]
  .forEach(([s, x, y]) => label(svg, x, y, s, 23, { weight: "bold" }));

// ---------------- A ----------------
{
  const g = svg.append("g");
  const nTot = consSizes[0] + consSizes[1];
  const xA = d3.scaleLinear([0, nTot], [32, 199]);
  const yRow = d3.scaleLinear([0, nTot], [68, 233]);
  const hA = d3.scaleLinear([0, 1], [57, 8]);
  const n1 = consSizes[0], n2 = consSizes[1];

  label(g, 115, 7, "consensus matrix k=2", 8, { weight: "bold", anchor: "middle" });

  dendroLeaves.forEach(([a, b, h]) => {
    g.append("rect").attr("x", xA(a)).attr("y", hA(h)).attr("width", xA(b) - xA(a))
      .attr("height", hA(0) - hA(h)).attr("fill", "#8a8a8a").attr("stroke", "#666").attr("stroke-width", 0.5);
  });
  dendroMerges.forEach(([x1, x2, h1, h2, h]) => {
    g.append("path")
      .attr("d", `M${xA(x1)},${hA(h1)}V${hA(h)}H${xA(x2)}V${hA(h2)}`)
      .attr("fill", "none").attr("stroke", "#555").attr("stroke-width", 1);
  });

  // annotation bar: columns ordered cluster 2 then cluster 1
  g.append("rect").attr("x", xA(0)).attr("y", 58).attr("width", xA(n2) - xA(0)).attr("height", 7).attr("fill", "#1f78b4");
  g.append("rect").attr("x", xA(n2)).attr("y", 58).attr("width", xA(nTot) - xA(n2)).attr("height", 7).attr("fill", "#a6cee3");

  // matrix blocks: rows cluster 1 then 2, columns cluster 2 then 1
  const blocks = [
    [0, n1, 0, n2, false], [0, n1, n2, nTot, true],
    [n1, nTot, 0, n2, true], [n1, nTot, n2, nTot, false]
  ];
  blocks.forEach(([r0, r1, c0, c1, same]) => {
    g.append("rect").attr("x", xA(c0)).attr("y", yRow(r0)).attr("width", xA(c1) - xA(c0))
      .attr("height", yRow(r1) - yRow(r0)).attr("fill", same ? "#0000ff" : "#fff");
  });
  consRowFringe.forEach(([r0, r1, m]) => {
    const inC1 = r0 < n1;
    [[0, n2, inC1 ? "#0000ff" : "#fff"], [n2, nTot, inC1 ? "#fff" : "#0000ff"]].forEach(([c0, c1, col]) => {
      d3.range(r0, r1, 2).forEach(r => {
        g.append("rect").attr("x", xA(c0)).attr("y", yRow(r)).attr("width", xA(c1) - xA(c0))
          .attr("height", yRow(r + 1) - yRow(r)).attr("fill", col).attr("opacity", m * 1.6);
      });
    });
  });
  consColFringe.forEach(([c0, c1, m]) => {
    const inC2 = c0 < n2;
    [[0, n1, inC2 ? "#0000ff" : "#fff"], [n1, nTot, inC2 ? "#fff" : "#0000ff"]].forEach(([r0, r1, col]) => {
      d3.range(c0, c1, 2).forEach(c => {
        g.append("rect").attr("x", xA(c)).attr("y", yRow(r0)).attr("width", xA(c + 1) - xA(c))
          .attr("height", yRow(r1) - yRow(r0)).attr("fill", col).attr("opacity", m * 1.6);
      });
    });
  });

  // legend
  g.append("rect").attr("x", 217).attr("y", 33).attr("width", 24).attr("height", 24)
    .attr("fill", "#fff").attr("stroke", "#777").attr("stroke-width", 0.8);
  [["1", "#a6cee3"], ["2", "#1f78b4"]].forEach(([s, c], i) => {
    g.append("rect").attr("x", 222).attr("y", 38 + i * 9).attr("width", 5).attr("height", 5)
      .attr("fill", c).attr("stroke", "#333").attr("stroke-width", 0.6);
    label(g, 232, 43 + i * 9, s, 7);
  });
}

// ---------------- scatter panels (B, C) ----------------
function scatterPanel(o) {
  const g = svg.append("g");
  const x = d3.scaleLinear(o.xDom, [o.x0, o.x1]);
  const y = d3.scaleLinear(o.yDom, [o.y1, o.y0]);
  g.append("rect").attr("x", o.x0).attr("y", o.y0).attr("width", o.x1 - o.x0).attr("height", o.y1 - o.y0)
    .attr("fill", "#fff").attr("stroke", "#9c9c9c").attr("stroke-width", 1);
  const ax = g.append("g").attr("transform", `translate(0,${o.y1})`)
    .call(d3.axisBottom(x).tickValues(o.xTicks).tickSize(2.2).tickPadding(1));
  styleAxis(ax, 6, "#4d4d4d");
  const ay = g.append("g").attr("transform", `translate(${o.x0},0)`)
    .call(d3.axisLeft(y).tickValues(o.yTicks).tickSize(2.2).tickPadding(1));
  styleAxis(ay, 6, "#4d4d4d");
  [[o.c1, colC1], [o.c2, colC2]].forEach(([pts, col]) => {
    g.append("g").selectAll("circle").data(pts).join("circle")
      .attr("cx", d => x(d[0])).attr("cy", d => y(d[1])).attr("r", 1.9).attr("fill", col);
  });
  label(g, (o.x0 + o.x1) / 2, o.y1 + 18, o.xLab, 8.5, { anchor: "middle" });
  g.append("text").attr("transform", `translate(${o.x0 - 15},${(o.y0 + o.y1) / 2}) rotate(-90)`)
    .attr("text-anchor", "middle").attr("font-size", 8.5).text(o.yLab);
  label(g, o.legX, o.legY, "Cluster", 8);
  [["C1", colC1], ["C2", colC2]].forEach(([s, c], i) => {
    g.append("circle").attr("cx", o.legX + 5).attr("cy", o.legY + 11 + i * 12).attr("r", 1.9).attr("fill", c);
    label(g, o.legX + 14, o.legY + 13.5 + i * 12, s, 7, { fill: "#222" });
  });
}
scatterPanel({ x0: 301, x1: 477, y0: 58, y1: 228, xDom: [-3.1, 9.05], yDom: [-10.3, 4.07],
  xTicks: [-3, 0, 3, 6, 9], yTicks: [0, -5, -10], c1: pcaC1, c2: pcaC2, xLab: "PC1", yLab: "PC2", legX: 487, legY: 132 });
scatterPanel({ x0: 572, x1: 747, y0: 53, y1: 222, xDom: [-30.2, 27.9], yDom: [-24.5, 23.1],
  xTicks: [-30, -20, -10, 0, 10, 20], yTicks: [20, 10, 0, -10, -20], c1: tsneC1, c2: tsneC2,
  xLab: "tSNE1", yLab: "tSNE2", legX: 757, legY: 128 });

// ---------------- D ----------------
{
  svg.append("clipPath").attr("id", "clipD").append("rect").attr("x", 0).attr("y", 260).attr("width", 290).attr("height", 260);
  const g = svg.append("g").attr("clip-path", "url(#clipD)");
  const x = d3.scaleLinear([0, 10], [55.3, 288]);
  const y = d3.scaleLinear([0, 1], [418, 288]);

  const ay = g.append("g").attr("transform", "translate(43,0)")
    .call(d3.axisLeft(y).tickValues([0, 0.25, 0.5, 0.75, 1]).tickFormat(d3.format(".2f")).tickSize(2.5).tickPadding(1.5));
  styleAxis(ay, 7.5, "#333");
  const ax = g.append("g").attr("transform", "translate(0,424)")
    .call(d3.axisBottom(x).tickValues(riskTimes).tickSize(2.5).tickPadding(0.5));
  styleAxis(ax, 7.5, "#333");
  g.append("line").attr("x1", 43).attr("x2", 43).attr("y1", 281.5).attr("y2", 424).attr("stroke", "#000").attr("stroke-width", 0.9);
  g.append("line").attr("x1", 43).attr("x2", 300).attr("y1", 424).attr("y2", 424).attr("stroke", "#000").attr("stroke-width", 0.9);

  // median guides
  g.append("path").attr("d", `M${x(0)},${y(0.5)}H${x(kmMedian[0])}V${y(0)}M${x(kmMedian[1])},${y(0.5)}V${y(0)}`)
    .attr("fill", "none").attr("stroke", "#555").attr("stroke-width", 1).attr("stroke-dasharray", "2.2,2");

  const step = d3.line().x(d => x(d[0])).y(d => y(d[1])).curve(d3.curveStepAfter);
  const survAt = (km, t) => { let s = 1; km.forEach(d => { if (d[0] <= t) s = d[1]; }); return s; };
  [[kmC1, censC1, colC1], [kmC2, censC2, colC2]].forEach(([km, cens, col]) => {
    g.append("path").attr("d", step(km)).attr("fill", "none").attr("stroke", col).attr("stroke-width", 1.3);
    g.append("g").selectAll("path").data(cens).join("path")
      .attr("d", t => `M${x(t) - 2.5},${y(survAt(km, t))}h5M${x(t)},${y(survAt(km, t)) - 2.5}v5`)
      .attr("stroke", col).attr("stroke-width", 1);
  });

  label(g, 60, 397, "p<0.001", 12);
  g.append("text").attr("transform", "translate(24,353) rotate(-90)").attr("text-anchor", "middle")
    .attr("font-size", 9).text("Survival probability");
  label(g, 171, 444.5, "Time(years)", 9, { anchor: "middle" });

  // legend
  label(g, 237, 300, "Cluster", 6);
  [["C1", colC1], ["C2", colC2]].forEach(([s, c], i) => {
    const ly = 309 + i * 10;
    g.append("path").attr("d", `M239,${ly}h12M242.5,${ly}h5M245,${ly - 2.5}v5`).attr("stroke", c).attr("stroke-width", 1.2);
    label(g, 253, ly + 2.2, s, 6);
  });

  // risk table
  label(g, 43, 458, "Number at risk", 10);
  g.append("line").attr("x1", 43).attr("x2", 43).attr("y1", 463).attr("y2", 481).attr("stroke", "#000").attr("stroke-width", 0.9);
  g.append("line").attr("x1", 43).attr("x2", 300).attr("y1", 481).attr("y2", 481).attr("stroke", "#000").attr("stroke-width", 0.9);
  const ax2 = g.append("g").attr("transform", "translate(0,481)")
    .call(d3.axisBottom(x).tickValues(riskTimes).tickSize(2.5).tickPadding(0.5));
  styleAxis(ax2, 7.5, "#333");
  [[riskC1, colC1, "C1", 469.5], [riskC2, colC2, "C2", 477.5]].forEach(([vals, col, s, ry]) => {
    g.append("g").selectAll("text").data(vals).join("text")
      .attr("x", (d, i) => x(riskTimes[i])).attr("y", ry).attr("text-anchor", "middle")
      .attr("font-size", 7.5).text(d => d);
    label(g, 39.5, ry, s, 7.5, { anchor: "end", fill: col });
    g.append("line").attr("x1", 40.5).attr("x2", 43).attr("y1", ry - 2.7).attr("y2", ry - 2.7).attr("stroke", "#000").attr("stroke-width", 0.7);
  });
  label(g, 171, 500.5, "Time(years)", 9, { anchor: "middle" });
  g.append("text").attr("transform", "translate(23,471) rotate(-90)").attr("text-anchor", "middle")
    .attr("font-size", 9).text("Cluster");
}

// ---------------- E ----------------
{
  const g = svg.append("g");
  const x = d3.scaleBand().domain(eGenes).range([349.5, 794.5]).paddingOuter(0.1).paddingInner(0);
  const y = d3.scaleLinear([0, 7.5], [449, 334]);
  const bw = 4.6, off = 2.6;

  const ay = g.append("g").attr("transform", "translate(348,0)")
    .call(d3.axisLeft(y).tickValues([0, 2.5, 5, 7.5]).tickFormat(d3.format(".1f")).tickSize(3).tickPadding(2));
  styleAxis(ay, 8, "#333");
  const ax = g.append("g").attr("transform", "translate(0,456)")
    .call(d3.axisBottom(x).tickSize(3).tickFormat(""));
  styleAxis(ax, 8, "#333");
  g.append("line").attr("x1", 348).attr("x2", 348).attr("y1", 302).attr("y2", 456).attr("stroke", "#000").attr("stroke-width", 0.9);
  g.append("line").attr("x1", 348).attr("x2", 795).attr("y1", 456).attr("y2", 456).attr("stroke", "#000").attr("stroke-width", 0.9);

  eGenes.forEach((gene, i) => {
    const cx0 = x(gene) + x.bandwidth() / 2;
    [[eBoxC1[i], eOutC1[i], colC1, -off], [eBoxC2[i], eOutC2[i], colC2, off]].forEach(([b, outs, col, dx]) => {
      const cx = cx0 + dx;
      g.append("path").attr("d", `M${cx},${y(b[0])}V${y(b[1])}M${cx},${y(b[3])}V${y(b[4])}`)
        .attr("stroke", "#555").attr("stroke-width", 0.8);
      g.append("rect").attr("x", cx - bw / 2).attr("y", y(b[3])).attr("width", bw)
        .attr("height", Math.max(0.6, y(b[1]) - y(b[3]))).attr("fill", col).attr("stroke", "#222").attr("stroke-width", 0.6);
      g.append("line").attr("x1", cx - bw / 2).attr("x2", cx + bw / 2).attr("y1", y(b[2])).attr("y2", y(b[2]))
        .attr("stroke", "#000").attr("stroke-width", 1.3);
      g.append("g").selectAll("circle").data(outs).join("circle")
        .attr("cx", cx).attr("cy", d => y(d)).attr("r", 1.3).attr("fill", "#111");
    });
    label(g, cx0, 307, eStars[i], 6.5, { anchor: "middle" });
    g.append("text").attr("transform", `translate(${cx0 + 2},${461}) rotate(-45)`)
      .attr("text-anchor", "end").attr("font-size", 9).text(gene);
  });

  g.append("text").attr("transform", "translate(331,380) rotate(-90)").attr("text-anchor", "middle")
    .attr("font-size", 9).text("Gene expression");

  // legend
  label(g, 531, 287, "Cluster", 8);
  [["C1", colC1, 562], ["C2", colC2, 589]].forEach(([s, c, lx]) => {
    g.append("line").attr("x1", lx + 4).attr("x2", lx + 4).attr("y1", 278.5).attr("y2", 289.5).attr("stroke", "#555").attr("stroke-width", 0.8);
    g.append("rect").attr("x", lx).attr("y", 280.5).attr("width", 8).attr("height", 7).attr("fill", c).attr("stroke", "#222").attr("stroke-width", 0.6);
    g.append("line").attr("x1", lx).attr("x2", lx + 8).attr("y1", 284).attr("y2", 284).attr("stroke", "#000").attr("stroke-width", 1);
    label(g, lx + 12, 287, s, 6.5);
  });
}

// ---------------- F ----------------
{
  const g = svg.append("g").attr("shape-rendering", "crispEdges");
  const color = d3.scaleLinear().domain([-17.5, 0, 17.5]).range(["#0000ff", "#ffffff", "#ff0000"]);
  const xC1 = [40.5, 371], xC2 = [376, 550];
  const rowH = 6.72, gap = 5, top = 579.3;

  g.append("rect").attr("x", xC1[0]).attr("y", 568).attr("width", xC1[1] - xC1[0]).attr("height", 6.5).attr("fill", colC1);
  g.append("rect").attr("x", xC2[0]).attr("y", 568).attr("width", xC2[1] - xC2[0]).attr("height", 6.5).attr("fill", colC2);
  label(svg, 556, 574, "Cluster", 7, { weight: "bold" });

  let r = 0;
  heatBlocks.forEach((rows, gi) => {
    const y0 = top + r * rowH + gi * gap;
    g.append("rect").attr("x", 28).attr("y", y0).attr("width", 8).attr("height", rows.length * rowH)
      .attr("fill", methodColors[gi]);
    rows.forEach(([name, s1, s2], k) => {
      const ry = y0 + k * rowH;
      [[s1, xC1], [s2, xC2]].forEach(([s, [a, b]]) => {
        const w = (b - a) / s.length;
        g.append("g").selectAll("rect").data(s.split("")).join("rect")
          .attr("x", (d, j) => a + j * w).attr("y", ry).attr("width", w + 0.2).attr("height", rowH + 0.1)
          .attr("fill", d => color(heatCode[d]));
      });
      label(svg, 556, ry + rowH / 2 + 2.2, name, 6.2);
    });
    r += rows.length;
  });

  // row annotation title
  svg.append("text").attr("transform", "translate(29,1062) rotate(90)").attr("font-size", 7)
    .attr("font-weight", "bold").text("Methods");

  // colour bar
  const yBar = d3.scaleLinear([-17.2, 17.6], [753, 567]);
  const grad = svg.append("defs").append("linearGradient").attr("id", "heatGrad")
    .attr("x1", "0%").attr("y1", "100%").attr("x2", "0%").attr("y2", "0%");
  grad.selectAll("stop").data(d3.range(-17.2, 17.61, 0.8)).join("stop")
    .attr("offset", d => ((d + 17.2) / 34.8 * 100) + "%").attr("stop-color", d => color(d));
  svg.append("rect").attr("x", 709).attr("y", yBar(17.6)).attr("width", 13).attr("height", yBar(-17.2) - yBar(17.6))
    .attr("fill", "url(#heatGrad)");
  heatTicks.forEach(v => label(svg, 726, yBar(v) + 2.5, d3.format("")(v).replace("-", "\u2212"), 7));

  // discrete legends
  label(svg, 740, 572, "Cluster", 7.5, { weight: "bold" });
  [["C1", colC1], ["C2", colC2]].forEach(([s, c], i) => {
    svg.append("rect").attr("x", 740).attr("y", 576 + i * 10.8).attr("width", 9).attr("height", 9.8).attr("fill", c);
    label(svg, 752.5, 583.5 + i * 10.8, s, 7);
  });
  label(svg, 740, 609, "Methods", 7.5, { weight: "bold" });
  heatMethods.forEach((m, i) => {
    svg.append("rect").attr("x", 740).attr("y", 613 + i * 10.8).attr("width", 9).attr("height", 9.8).attr("fill", methodColors[i]);
    label(svg, 752.5, 620.5 + i * 10.8, m, 7);
  });
}
</script>
</body>
</html>
